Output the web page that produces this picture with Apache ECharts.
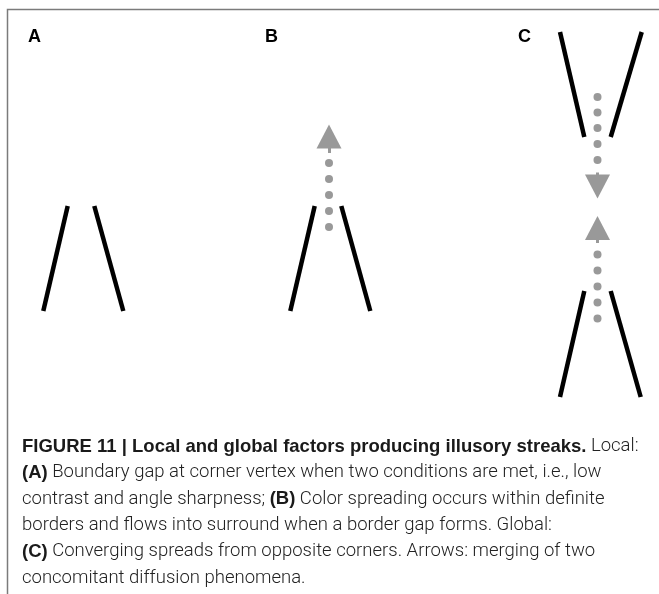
<!DOCTYPE html>
<html lang="en">
<head>
    <meta charset="UTF-8">
    <title>Figure 11 - illusory streaks</title>
    <script src="https://cdn.jsdelivr.net/npm/echarts@6/dist/echarts.min.js"></script>
    <style>
        html, body { margin: 0; padding: 0; background: #fff; }
        #fig { width: 659px; height: 594px; }
    </style>
</head>
<body>
<div id="fig"></div>
<script>

  // figure space (same units as the picture), y grows downwards
  var panelLabels = ['A', 'B', 'C'];

  // black borders of each corner: [[x top, y top], [x bottom, y bottom]]
  var bordersA = [
    [[67.7, 206], [43.3, 311]],
    [[94.3, 206], [123.3, 311]]
  ];
  var bordersB = [
    [[314.7, 206], [290.3, 311]],
    [[341.3, 206], [370.3, 311]]
  ];
  var bordersC = [
    [[560, 32], [584.3, 137]],
    [[641.7, 32], [610.7, 137]],
    [[584.3, 291], [560, 397]],
    [[610.7, 291], [640.7, 397]]
  ];

  // grey dots of the spreading flow
  var dotsB = [[329, 163], [329, 179], [329, 195], [329, 211], [329, 227]];
  var dotsC = [
    [597.5, 97], [597.5, 112.5], [597.5, 128], [597.5, 144], [597.5, 160],
    [597.5, 254.5], [597.5, 270.5], [597.5, 286.5], [597.5, 302.5], [597.5, 318.5]
  ];

  // arrow heads: [x, y centre, direction]
  var arrowHeads = [[329, 136.5, 'up'], [597.5, 186.5, 'down'], [597.5, 228, 'up']];
  // short stems under the heads
  var arrowStems = [
    [[329, 148], [329, 153]],
    [[597.5, 172.5], [597.5, 176]],
    [[597.5, 239], [597.5, 243]]
  ];

  var captionLines = [
    '{b|FIGURE 11 | Local and global factors producing illusory streaks.}{r| Local:}',
    '{b|(A)}{r| Boundary gap at corner vertex when two conditions are met, i.e., low}',
    '{r|contrast and angle sharpness; }{b|(B)}{r| Color spreading occurs within definite}',
    '{r|borders and flows into surround when a border gap forms. Global:}',
    '{b|(C)}{r| Converging spreads from opposite corners. Arrows: merging of two}',
    '{r|concomitant diffusion phenomena.}'
  ];

  var myChart = echarts.init(document.getElementById('fig'), null, { renderer: 'canvas' });

  function toLines(list) {
    return list.map(function (seg) {
      return { coords: seg };
    });
  }

  var labelLeft = [28, 265, 518];

  myChart.setOption({
    animation: false,
    grid: { left: 0, right: 0, top: 0, bottom: 0 },
    xAxis: { type: 'value', min: 0, max: 659, show: false },
    yAxis: { type: 'value', min: 0, max: 594, inverse: true, show: false },
    graphic: [
      {
        type: 'polyline',
        silent: true,
        shape: { points: [[7.5, 594], [7.5, 9.5], [659, 9.5]] },
        style: { stroke: '#7b7b7b', lineWidth: 1.5, fill: null }
      }
    ].concat(panelLabels.map(function (t, i) {
      return {
        type: 'text',
        left: labelLeft[i],
        top: 28,
        silent: true,
        style: {
          text: t,
          fill: '#000',
          font: 'bold 18px "Liberation Sans", Arial, sans-serif'
        }
      };
    })).concat([
      {
        type: 'text',
        left: 22,
        top: 437,
        silent: true,
        style: {
          text: captionLines.join('\n'),
          rich: {
            b: {
              fontFamily: '"Liberation Sans", Arial, sans-serif',
              fontWeight: 'bold',
              fontSize: 18.5,
              lineHeight: 26.3,
              fill: '#1a1a1a'
            },
            r: {
              fontFamily: 'Roboto, "Liberation Sans", sans-serif',
              fontWeight: 300,
              fontSize: 18.5,
              lineHeight: 26.3,
              fill: '#222'
            }
          }
        }
      }
    ]),
    series: [
      {
        type: 'lines',
        coordinateSystem: 'cartesian2d',
        silent: true,
        lineStyle: { color: '#000', width: 4.5, opacity: 1, curveness: 0 },
        data: toLines(bordersA.concat(bordersB, bordersC))
      },
      {
        type: 'lines',
        coordinateSystem: 'cartesian2d',
        silent: true,
        lineStyle: { color: '#999', width: 3, opacity: 1, curveness: 0 },
        data: toLines(arrowStems)
      },
      {
        type: 'scatter',
        silent: true,
        symbol: 'circle',
        symbolSize: 8,
        itemStyle: { color: '#999', opacity: 1 },
        data: dotsB.concat(dotsC)
      },
      {
        type: 'scatter',
        silent: true,
        symbol: 'triangle',
        itemStyle: { color: '#999', opacity: 1 },
        data: arrowHeads.map(function (a) {
          return {
            value: [a[0], a[1]],
            symbolSize: [25, 24],
            symbolRotate: a[2] === 'down' ? 180 : 0
          };
        })
      }
    ]
  });
</script>
</body>
</html>
